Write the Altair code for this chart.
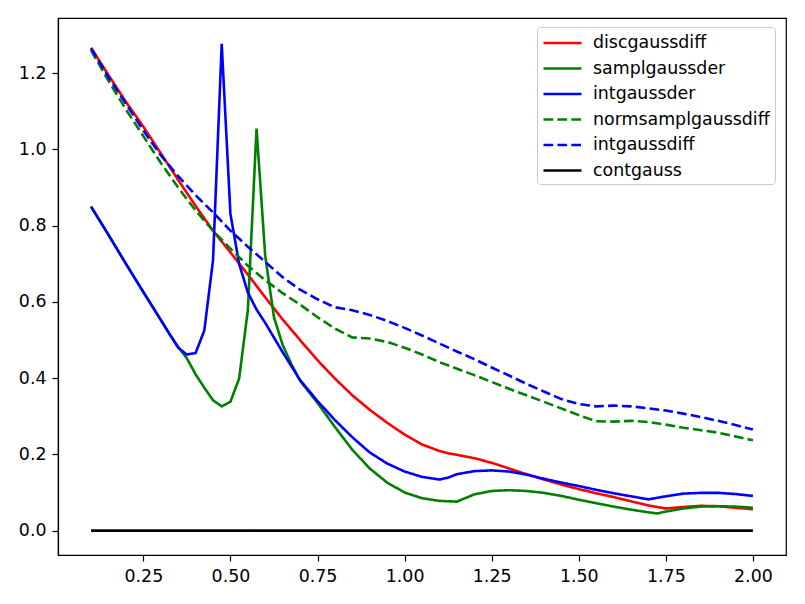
import altair as alt
import pandas as pd

names = ["discgaussdiff", "samplgaussder", "intgaussder", "normsamplgaussdiff", "intgaussdiff", "contgauss"]
colors = ["#ff0000", "#008000", "#0000ff", "#008000", "#0000ff", "#000000"]
dashes = [[1, 0], [1, 0], [1, 0], [9.7, 4.2], [9.7, 4.2], [1, 0]]

# discgaussdiff (red)
x_red = [0.1, 0.15, 0.2, 0.25, 0.3, 0.35, 0.4, 0.45, 0.5, 0.55, 0.6, 0.65, 0.7, 0.75, 0.8, 0.85, 0.9, 0.95,
         1.0, 1.05, 1.1, 1.125, 1.15, 1.2, 1.25, 1.3, 1.35, 1.4, 1.45, 1.5, 1.55, 1.6, 1.65, 1.7, 1.75, 1.8,
         1.85, 1.9, 1.95, 2.0]
y_red = [1.267, 1.195, 1.125, 1.06, 0.99, 0.92, 0.852, 0.787, 0.73, 0.672, 0.612, 0.554, 0.5, 0.447,
         0.399, 0.355, 0.317, 0.283, 0.252, 0.226, 0.209, 0.203, 0.199, 0.190, 0.178, 0.163, 0.148, 0.134,
         0.121, 0.109, 0.098, 0.088, 0.077, 0.066, 0.058, 0.062, 0.065, 0.064, 0.06, 0.056]

# samplgaussder (green solid)
x_sgd = [0.1, 0.15, 0.2, 0.25, 0.3, 0.325, 0.35, 0.375, 0.4, 0.425, 0.45, 0.475, 0.5, 0.525, 0.55, 0.575,
         0.6, 0.625, 0.65, 0.675, 0.7, 0.75, 0.8, 0.85, 0.9, 0.95, 1.0, 1.05, 1.1, 1.15, 1.2, 1.25, 1.3,
         1.35, 1.4, 1.45, 1.5, 1.55, 1.6, 1.65, 1.7, 1.725, 1.75, 1.8, 1.85, 1.9, 1.95, 2.0]
y_sgd = [0.85, 0.776, 0.70, 0.626, 0.553, 0.516, 0.482, 0.452, 0.41, 0.375, 0.342, 0.326, 0.338, 0.399,
         0.578, 1.055, 0.72, 0.56, 0.487, 0.437, 0.393, 0.335, 0.272, 0.212, 0.163, 0.126, 0.1, 0.085,
         0.078, 0.076, 0.095, 0.104, 0.106, 0.104, 0.099, 0.091, 0.081, 0.072, 0.063, 0.055, 0.048,
         0.045, 0.05, 0.058, 0.063, 0.064, 0.063, 0.06]

# intgaussder (blue solid)
x_igd = [0.1, 0.15, 0.2, 0.25, 0.3, 0.325, 0.35, 0.375, 0.4, 0.425, 0.45, 0.475, 0.5, 0.525, 0.55, 0.575,
         0.6, 0.65, 0.7, 0.75, 0.8, 0.85, 0.9, 0.95, 1.0, 1.05, 1.1, 1.125, 1.15, 1.2, 1.25, 1.3, 1.35,
         1.4, 1.45, 1.5, 1.55, 1.6, 1.65, 1.7, 1.75, 1.8, 1.85, 1.9, 1.95, 2.0]
y_igd = [0.85, 0.776, 0.70, 0.626, 0.553, 0.516, 0.48, 0.462, 0.466, 0.525, 0.709, 1.277, 0.831, 0.70,
         0.625, 0.58, 0.545, 0.468, 0.395, 0.34, 0.29, 0.245, 0.205, 0.176, 0.155, 0.141, 0.134, 0.139,
         0.148, 0.156, 0.158, 0.155, 0.147, 0.136, 0.126, 0.117, 0.107, 0.098, 0.09, 0.082, 0.09,
         0.097, 0.099, 0.099, 0.096, 0.091]

# normsamplgaussdiff (green dashed)
x_nsd = [0.1, 0.15, 0.2, 0.25, 0.3, 0.35, 0.4, 0.45, 0.5, 0.55, 0.6, 0.65, 0.7, 0.75, 0.8, 0.85, 0.9, 0.95,
         1.0, 1.05, 1.1, 1.2, 1.3, 1.4, 1.5, 1.55, 1.6, 1.65, 1.7, 1.75, 1.8, 1.9, 2.0]
y_nsd = [1.26, 1.18, 1.105, 1.035, 0.965, 0.9, 0.84, 0.787, 0.74, 0.695, 0.657, 0.623, 0.593, 0.56,
         0.53, 0.507, 0.504, 0.495, 0.48, 0.462, 0.442, 0.408, 0.372, 0.338, 0.303, 0.287, 0.286, 0.288,
         0.285, 0.278, 0.27, 0.257, 0.237]

# intgaussdiff (blue dashed)
x_igf = [0.1, 0.15, 0.2, 0.25, 0.3, 0.35, 0.4, 0.45, 0.5, 0.55, 0.6, 0.65, 0.7, 0.75, 0.8, 0.85, 0.9, 0.95,
         1.0, 1.05, 1.1, 1.15, 1.2, 1.25, 1.3, 1.35, 1.4, 1.45, 1.5, 1.55, 1.6, 1.65, 1.7, 1.75, 1.8,
         1.85, 1.9, 1.95, 2.0]
y_igf = [1.265, 1.19, 1.12, 1.05, 0.985, 0.93, 0.88, 0.835, 0.787, 0.745, 0.705, 0.665, 0.632, 0.607,
         0.586, 0.578, 0.566, 0.55, 0.532, 0.512, 0.491, 0.47, 0.45, 0.428, 0.407, 0.385, 0.365, 0.345,
         0.332, 0.326, 0.328, 0.326, 0.321, 0.315, 0.307, 0.298, 0.288, 0.277, 0.265]

# contgauss (black)
x_cg = [0.1, 2.0]
y_cg = [0.0, 0.0]

x_ticks = [0.25, 0.5, 0.75, 1.0, 1.25, 1.5, 1.75, 2.0]
y_ticks = [0.0, 0.2, 0.4, 0.6, 0.8, 1.0, 1.2]

series = [
    (names[0], x_red, y_red),
    (names[1], x_sgd, y_sgd),
    (names[2], x_igd, y_igd),
    (names[3], x_nsd, y_nsd),
    (names[4], x_igf, y_igf),
    (names[5], x_cg, y_cg),
]
rows = []
for i, (n, xs, ys) in enumerate(series):
    for j, (xv, yv) in enumerate(zip(xs, ys)):
        rows.append({"series": n, "x": xv, "y": yv, "order": j, "k": i})
df = pd.DataFrame(rows)

legend = alt.Legend(
    title=None, orient="none", legendX=479, legendY=9,
    symbolType="M-1,0H3", symbolSize=361, symbolStrokeWidth=2.6,
    labelFontSize=17.4, labelFont="DejaVu Sans", labelColor="black", labelLimit=400,
    labelOffset=29, rowPadding=5.5, padding=5,
    fillColor="white", strokeColor="#cccccc", cornerRadius=3,
)

chart = alt.Chart(df).mark_line(strokeWidth=2.6, interpolate="linear").encode(
    x=alt.X("x:Q", scale=alt.Scale(domain=[0.005, 2.095], nice=False, zero=False),
            axis=alt.Axis(values=x_ticks, format=".2f", title=None)),
    y=alt.Y("y:Q", scale=alt.Scale(domain=[-0.064, 1.345], nice=False, zero=False),
            axis=alt.Axis(values=y_ticks, format=".1f", title=None)),
    color=alt.Color("series:N", scale=alt.Scale(domain=names, range=colors), legend=legend, sort=names),
    strokeDash=alt.StrokeDash("series:N", scale=alt.Scale(domain=names, range=dashes), legend=legend, sort=names),
    detail="series:N",
    order="order:Q",
).properties(
    width=728, height=537,
    autosize=alt.AutoSizeParams(type="none"),
    padding={"left": 50, "top": 10, "right": 10, "bottom": 40},
).configure_view(
    stroke="black", strokeWidth=1.2
).configure_axis(
    grid=False, domainColor="black", domainWidth=1.2, tickColor="black", tickWidth=1.2,
    tickSize=6, labelPadding=6, labelFont="DejaVu Sans", labelFontSize=17.4, labelColor="black",
)

chart.save("out.html", embed_options={"renderer": "svg", "actions": False})
